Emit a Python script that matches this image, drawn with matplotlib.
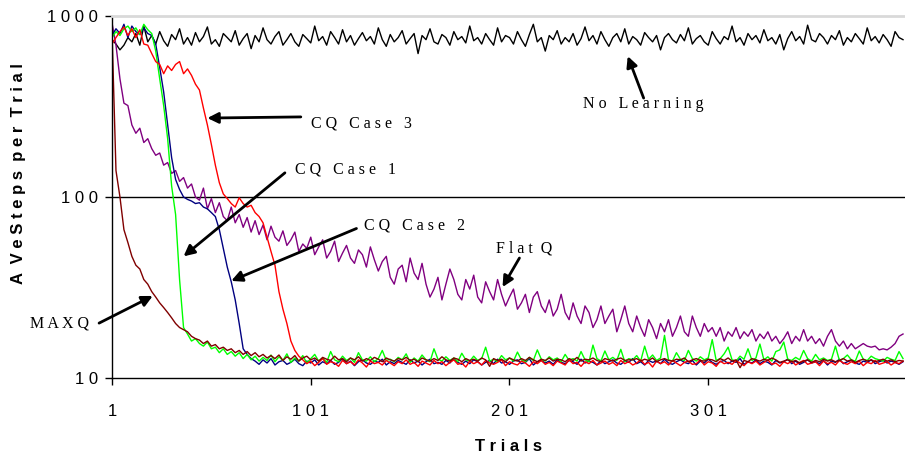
import numpy as np
import matplotlib
matplotlib.use("Agg")
import matplotlib.pyplot as plt
from matplotlib.ticker import FixedLocator, NullLocator


# every second trial, 1..399
trials = np.arange(1, 400, 2)

no_learning = [
    740, 700, 650, 690, 760, 720, 800, 690, 880, 720,
    780, 700, 820, 730, 680, 790, 740, 850, 700, 760,
    690, 810, 720, 770, 870, 700, 740, 680, 800, 760,
    720, 830, 690, 750, 800, 660, 780, 720, 860, 740,
    700, 770, 820, 690, 740, 800, 720, 680, 790, 750,
    710, 880, 730, 770, 690, 820, 760, 700, 840, 720,
    780, 690, 750, 810, 730, 770, 700, 860, 740, 680,
    790, 720, 760, 830, 700, 750, 800, 620, 780, 740,
    850, 720, 700, 790, 760, 690, 820, 740, 770, 710,
    880, 730, 760, 700, 800, 740, 690, 860, 720, 780,
    760, 700, 820, 740, 680, 790, 900, 720, 760, 640,
    780, 740, 830, 700, 760, 720, 800, 690, 750, 870,
    730, 780, 700, 820, 740, 680, 760, 800, 720, 850,
    700, 770, 740, 690, 810, 760, 720, 780, 650, 760,
    800, 740, 710, 790, 730, 860, 700, 750, 780, 720,
    690, 820, 750, 700, 770, 740, 880, 720, 760, 690,
    800, 740, 780, 710, 840, 730, 760, 700, 790, 650,
    750, 820, 730, 770, 700, 890, 740, 720, 800, 760,
    700, 780, 740, 830, 690, 760, 720, 800, 750, 700,
    860, 730, 770, 710, 790, 740, 680, 820, 760, 740,
]

flat_q = [
    915, 690, 450, 330, 320, 250, 225, 240, 200, 210,
    185, 170, 175, 150, 155, 135, 140, 122, 128, 112,
    118, 100, 96, 112, 86, 98, 82, 93, 78, 74,
    88, 72, 80, 68, 77, 64, 74, 62, 70, 58,
    69, 60, 57, 65, 54, 58, 64, 50, 55, 52,
    60, 48, 53, 58, 46, 50, 57, 44, 49, 54,
    46, 43, 51, 48, 41, 53, 45, 39, 44, 47,
    36, 33, 40, 42, 34, 46, 38, 35, 43, 33,
    28, 31, 36, 27, 33, 40, 35, 29, 27, 35,
    31, 37, 28, 26, 34, 30, 27, 35, 29, 25,
    28, 31, 24, 26, 29, 23, 28, 30, 25, 23,
    27, 22, 24, 29, 23, 21, 26, 22, 20, 25,
    23, 19, 21, 25, 20, 22, 24, 18, 21, 25,
    20, 18, 22, 19, 17, 21, 19, 16.5, 20, 18,
    21, 17, 19, 22, 18, 17, 22, 19, 17, 20,
    18, 19, 17, 19, 16, 18, 17, 19, 16.5, 18,
    17, 18.5, 16, 17.5, 16.5, 18, 16, 17, 15.5, 16.5,
    18, 15.5, 17, 16, 18.5, 16, 17, 15.5, 16.5, 15,
    17, 18.5, 16, 15, 16, 14.5, 15.5, 14.5, 15, 15.5,
    15, 14.8, 15, 14.3, 14.5, 14.3, 14.8, 15.5, 17, 17.5,
]

cq_case1 = [
    760, 820, 780, 850, 880, 820, 860, 790, 900, 840, 800,
    640, 450, 320, 210, 115, 80, 35, 19,
    17.5, 16, 16.5, 15.5, 15, 15.8, 14.5, 14.8, 13.8, 14.5,
    13.5, 14, 13.2, 13.8, 12.8, 13.5, 12.6, 13.2, 12.4, 13.0, 12.5, 13.4,
    12.3, 13.1, 12.5, 13.6, 12.2, 12.9, 12.4, 13.3, 12.1, 12.8,
    13.5, 12.4, 12.9, 12.2, 14.0, 12.6, 12.3, 13.2, 12.5, 12.9,
    12.2, 13.8, 12.6, 12.4, 13.1, 12.3, 12.8, 14.2, 12.5, 12.7,
    12.3, 13.0, 12.6, 13.6, 12.2, 12.9, 12.4, 13.4, 12.6, 12.3,
    14.5, 12.7, 12.4, 13.1, 12.5, 12.9, 12.3, 13.7, 12.6, 12.4,
    13.2, 12.5, 12.8, 14.8, 12.4, 12.7, 12.3, 13.3, 12.6, 12.9,
    12.4, 13.9, 12.6, 12.3, 13.0, 12.5, 14.3, 12.7, 12.4, 13.1,
    12.6, 12.9, 12.3, 13.5, 12.5, 12.8, 12.4, 14.0, 12.6, 12.3,
    15.2, 12.8, 12.4, 14.1, 12.6, 13.0, 12.5, 14.4, 12.3, 12.8,
    12.6, 13.3, 12.4, 15.0, 12.7, 13.4, 12.5, 12.9, 17.2, 12.6,
    12.4, 13.8, 12.7, 12.5, 14.2, 12.8, 12.4, 13.1, 12.6, 12.9,
    16.3, 12.5, 12.8, 13.6, 14.8, 12.6, 12.4, 13.2, 12.7, 14.5,
    12.5, 12.9, 15.4, 12.6, 13.1, 12.4, 14.0, 14.3, 15.8, 12.7,
    12.5, 13.0, 12.6, 14.2, 12.8, 12.4, 13.5, 12.6, 12.9, 12.5,
    12.7, 15.0, 12.5, 12.8, 13.4, 12.6, 12.4, 14.1, 12.7, 12.5,
    13.2, 12.8, 12.6, 12.4, 13.0, 12.7, 12.5, 14.0, 12.8,
]

cq_case2 = [
    780, 850, 800, 900, 760, 880, 820, 790, 860, 800, 780, 700, 520,
    380, 250, 165, 125, 110, 100, 97, 95, 92, 93, 88, 86, 82, 78,
    66, 52, 41, 34, 27, 20, 14.5, 13.5, 12.8,
    12.4, 11.9, 12.6, 12.1, 12.8, 11.8, 12.3, 12.5, 11.9, 12.2,
    12.7, 12.0, 11.7, 12.4, 12.1, 12.6, 11.8, 12.3, 12.0, 12.5,
    11.9, 12.2, 12.8, 12.0, 12.4, 11.7, 12.3, 12.6, 12.1, 11.9,
    12.4, 12.2, 12.7, 11.8, 12.3, 12.0, 12.5, 12.2, 11.9, 12.6,
    12.1, 12.4, 11.8, 12.3, 12.7, 12.0, 12.2, 11.9, 12.5, 12.1,
    12.8, 12.2, 11.9, 12.4, 12.0, 12.6, 12.3, 11.8, 12.2, 12.5,
    12.0, 12.7, 12.1, 12.3, 11.9, 12.4, 12.6, 12.0, 12.2, 12.8,
    11.8, 12.3, 12.5, 12.1, 12.4, 11.9, 12.6, 12.2, 12.0, 12.5,
    12.3, 11.9, 12.7, 12.1, 12.4, 12.2, 11.8, 12.5, 12.0, 12.3,
    12.6, 12.1, 11.9, 12.4, 12.2, 12.8, 12.0, 12.3, 11.8, 12.5,
    12.2, 12.4, 12.0, 12.7, 12.1, 11.9, 12.3, 12.6, 12.2, 12.0,
    12.5, 11.8, 12.4, 12.1, 12.7, 12.2, 11.9, 12.3, 12.5, 12.0,
    12.4, 12.2, 12.8, 11.9, 12.3, 12.1, 12.6, 12.0, 12.4, 12.2,
    11.8, 12.5, 12.1, 12.3, 12.7, 12.0, 12.4, 11.9, 12.2, 12.6,
    12.1, 12.3, 12.0, 12.5, 11.8, 12.4, 12.2, 12.7, 12.0, 12.3,
    12.5, 12.1, 11.9, 12.4, 12.2, 12.6, 12.0, 12.3, 12.5, 12.1,
    12.4, 12.2, 11.9, 12.3,
]

cq_case3 = [
    700, 760, 820, 870, 780, 850, 760, 840, 700, 690,
    620, 560, 540, 480, 530, 500, 540, 560, 480, 510,
    470, 420, 390, 310, 250, 195, 150, 120, 104, 98,
    92, 88, 99, 92, 88, 90, 82, 78, 72, 60,
    50, 42, 30, 24, 20, 16, 14.2, 13.2,
    12.6, 12.0, 12.4, 11.7, 12.2, 12.8, 11.9, 12.3, 12.1, 11.6,
    12.5, 12.0, 12.3, 11.8, 12.6, 12.1, 11.5, 12.4, 12.0, 12.2,
    11.8, 12.5, 12.1, 11.7, 12.3, 12.0, 12.6, 11.9, 12.2, 11.6,
    12.4, 12.1, 11.8, 12.5, 12.0, 12.3, 11.7, 12.2, 12.6, 11.9,
    12.1, 11.5, 12.4, 12.0, 12.3, 11.8, 12.5, 12.1, 11.9, 12.2,
    12.6, 11.7, 12.3, 12.0, 11.8, 12.4, 12.1, 11.6, 12.3, 12.0,
    12.5, 11.9, 12.2, 11.7, 12.4, 12.1, 11.8, 12.6, 12.0, 12.2,
    11.6, 12.3, 12.0, 12.5, 11.8, 12.1, 12.4, 11.9, 12.2, 11.7,
    12.5, 12.0, 12.3, 11.8, 12.1, 12.6, 11.9, 12.2, 11.5, 12.4,
    12.0, 12.3, 11.8, 12.5, 12.1, 11.7, 12.2, 12.4, 11.9, 12.0,
    12.6, 11.8, 12.3, 12.1, 11.6, 12.4, 12.0, 12.2, 11.9, 12.5,
    12.1, 11.7, 12.3, 12.0, 12.4, 11.8, 12.2, 12.6, 11.9, 12.1,
    11.6, 12.3, 12.0, 12.4, 11.8, 12.2, 12.5, 11.9, 12.1, 12.3,
    11.7, 12.4, 12.0, 12.2, 11.8, 12.5, 12.1, 11.9, 12.3, 12.0,
    12.4, 11.7, 12.2, 12.0, 12.5, 11.9, 12.1, 12.3, 11.8, 12.2,
    12.0, 12.4,
]

maxq = [
    820, 140, 100, 66, 56, 47, 42, 40, 35, 33, 30,
    28, 26, 24.5, 23, 21.5, 20, 19, 18.5, 18, 17,
    16.5, 16.2, 15.5, 16, 15, 15.3, 14.5, 14.8, 14.2, 14.5,
    13.8, 14.2, 13.5, 14, 13.3, 13.8, 13.1, 13.5, 12.9, 13.3,
    12.8, 13.4, 12.5, 13.1, 12.7, 13.3, 12.4, 12.9, 13.2, 12.6,
    12.9, 12.4, 13.0, 12.7, 12.5, 13.2, 12.6, 12.8, 12.3, 12.9,
    12.6, 13.1, 12.4, 12.8, 12.5, 13.0, 12.7, 12.3, 12.9, 12.6,
    12.4, 12.8, 12.6, 13.0, 12.5, 12.7, 12.3, 12.9, 12.6, 12.4,
    12.8, 12.5, 13.1, 12.6, 12.4, 12.9, 12.7, 12.3, 12.8, 12.5,
    12.7, 12.4, 12.9, 12.6, 11.6, 12.8, 12.5, 12.7, 12.3, 12.9,
    12.6, 12.4, 12.8, 12.5, 13.0, 12.6, 12.3, 12.7, 12.5, 12.9,
    12.4, 12.7, 12.6, 12.3, 12.8, 12.5, 13.0, 12.4, 12.7, 12.6,
    12.9, 12.5, 12.3, 12.8, 12.6, 12.4, 12.7, 12.9, 12.5, 12.6,
    12.6, 12.8, 12.4, 12.7, 12.5, 12.9, 12.3, 12.6, 12.8, 12.5,
    12.4, 12.7, 12.6, 12.9, 12.3, 12.6, 12.8, 12.5, 12.4, 12.7,
    12.6, 12.3, 12.8, 12.5, 12.9, 12.4, 12.6, 11.4, 12.5, 12.3,
    12.8, 12.6, 12.4, 12.7, 12.5, 12.9, 12.6, 12.2, 12.4, 12.6,
    12.3, 12.5, 12.1, 12.4, 12.6, 12.2, 12.5, 12.3, 12.7, 12.4,
    12.6, 12.3, 12.5, 12.8, 12.4, 12.6, 12.2, 12.5, 12.7, 12.4,
    12.6, 12.3, 12.5, 12.7, 12.4, 12.6, 12.3, 12.5, 12.4,
]

x_ticks = [1, 101, 201, 301]
x_tick_labels = ["1", "1 0 1", "2 0 1", "3 0 1"]
y_ticks = [10, 100, 1000]
y_tick_labels = ["1 0", "1 0 0", "1 0 0 0"]

SERIES = [
    ("No Learning", no_learning, "black"),
    ("Flat Q", flat_q, "#800080"),
    ("CQ Case 2", cq_case2, "#000080"),
    ("CQ Case 1", cq_case1, "#00ff00"),
    ("CQ Case 3", cq_case3, "#ff0000"),
    ("MAXQ", maxq, "#800000"),
]

# label text, text anchor (trial, steps), arrow tip, arrow tail, alignment
LABELS = [
    ("C Q   C a s e   3", (101, 256), (49, 273), (96, 277), "left"),
    ("C Q   C a s e   1", (93, 141), (37, 47), (88, 136), "left"),
    ("C Q   C a s e   2", (128, 70), (61, 34.4), (124, 67), "left"),
    ("F l a t  Q", (194, 52), (197.5, 31.8), (206, 46), "left"),
    ("N o   L e a r n i n g", (238, 326), (260.5, 600), (268.5, 352), "left"),
    ("M A X Q", (-10.5, 20.1), (21.5, 28.4), (-5.5, 20.1), "right"),
]


def main():
    fig = plt.figure(figsize=(9.05, 4.53), dpi=100)
    ax = fig.add_axes([112 / 905, 75 / 453, 793 / 905, 362 / 453])

    for name, vals, color in SERIES:
        assert len(vals) == len(trials), (name, len(vals))
        ax.plot(trials, vals, color=color, lw=1.0, label=name)

    ax.set_yscale("log")
    ax.set_ylim(10, 1000)
    ax.set_xlim(1, 400)
    ax.axhline(100, color="black", lw=1.0, zorder=0)

    ax.xaxis.set_major_locator(FixedLocator(x_ticks))
    ax.set_xticklabels(x_tick_labels)
    ax.yaxis.set_major_locator(FixedLocator(y_ticks))
    ax.yaxis.set_minor_locator(NullLocator())
    ax.set_yticklabels(y_tick_labels)

    ax.tick_params(axis="x", direction="out", length=5, width=1, pad=14,
                   labelsize=12, labelfontfamily="Liberation Sans")
    ax.tick_params(axis="y", direction="out", length=5, width=1, pad=5,
                   labelsize=12, labelfontfamily="Liberation Sans")

    ax.spines["right"].set_visible(False)
    ax.spines["top"].set_color("#d9d9d9")
    ax.spines["top"].set_linewidth(2.0)
    for s in ("left", "bottom"):
        ax.spines[s].set_linewidth(1.0)

    ax.set_xlabel("T r i a l s", fontsize=12, fontweight="bold",
                  family="Liberation Sans", labelpad=14)
    ax.set_ylabel("A  V e S t e p s  p e r  T r i a l", fontsize=12,
                  fontweight="bold", family="Liberation Sans")
    ax.yaxis.set_label_coords(-0.108, 0.566)

    for text, txy, tip, tail, ha in LABELS:
        ax.text(txy[0], txy[1], text, ha=ha, va="center", fontsize=11.5,
                family="Liberation Serif", clip_on=False)
        ax.annotate("", xy=tip, xytext=tail, annotation_clip=False,
                    arrowprops=dict(arrowstyle="-|>", color="black", lw=2,
                                    mutation_scale=16, shrinkA=0, shrinkB=0))

    fig.savefig("out.png", dpi=100)
    plt.close(fig)


if __name__ == "__main__":
    main()
